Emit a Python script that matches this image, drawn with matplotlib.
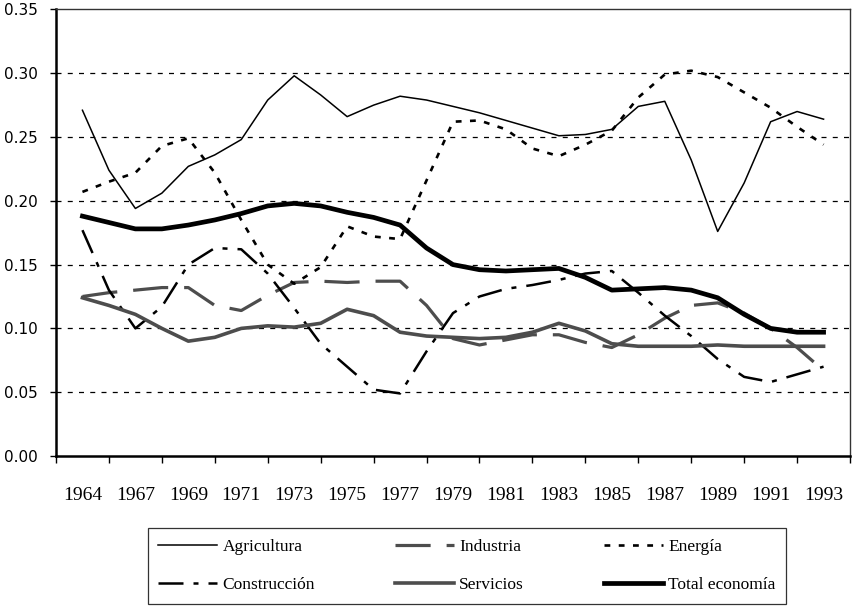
import numpy as np
import matplotlib
matplotlib.use('Agg')
import matplotlib.pyplot as plt

# categories (1965 not in the series; labels every other year)
years = [1964, 1966, 1967, 1968, 1969, 1970, 1971, 1972, 1973, 1974,
         1975, 1976, 1977, 1978, 1979, 1980, 1981, 1982, 1983, 1984,
         1985, 1986, 1987, 1988, 1989, 1990, 1991, 1992, 1993]

agricultura = [0.271, 0.224, 0.194, 0.206, 0.227, 0.236, 0.248, 0.279, 0.298, 0.283,
               0.266, 0.275, 0.282, 0.279, 0.274, 0.269, 0.263, 0.257, 0.251, 0.252,
               0.256, 0.274, 0.278, 0.232, 0.176, 0.214, 0.262, 0.270, 0.264]
industria = [0.125, 0.128, 0.130, 0.132, 0.132, 0.118, 0.114, 0.126, 0.136, 0.137,
             0.136, 0.137, 0.137, 0.118, 0.092, 0.087, 0.091, 0.095, 0.095, 0.089,
             0.085, 0.095, 0.108, 0.118, 0.120, 0.112, 0.100, 0.085, 0.067]
energia = [0.207, 0.215, 0.222, 0.243, 0.249, 0.222, 0.185, 0.150, 0.135, 0.148,
           0.180, 0.172, 0.170, 0.216, 0.262, 0.263, 0.256, 0.241, 0.235, 0.244,
           0.255, 0.281, 0.299, 0.302, 0.297, 0.285, 0.273, 0.258, 0.244]
construccion = [0.177, 0.130, 0.100, 0.117, 0.150, 0.163, 0.162, 0.143, 0.116, 0.088,
                0.070, 0.052, 0.049, 0.082, 0.112, 0.125, 0.131, 0.134, 0.138, 0.143,
                0.145, 0.128, 0.110, 0.094, 0.076, 0.062, 0.058, 0.064, 0.070]
servicios = [0.124, 0.118, 0.111, 0.100, 0.090, 0.093, 0.100, 0.102, 0.101, 0.104,
             0.115, 0.110, 0.097, 0.094, 0.093, 0.092, 0.093, 0.097, 0.104, 0.098,
             0.088, 0.086, 0.086, 0.086, 0.087, 0.086, 0.086, 0.086, 0.086]
total = [0.188, 0.183, 0.178, 0.178, 0.181, 0.185, 0.190, 0.196, 0.198, 0.196,
         0.191, 0.187, 0.181, 0.163, 0.150, 0.146, 0.145, 0.146, 0.147, 0.140,
         0.130, 0.131, 0.132, 0.130, 0.124, 0.111, 0.100, 0.097, 0.097]

x = np.arange(len(years))

fig = plt.figure(figsize=(8.52, 6.10), dpi=100)
ax = fig.add_axes([0.0657, 0.2525, 0.932, 0.732])

serif = ['Liberation Serif', 'DejaVu Serif']

l_agr, = ax.plot(x, agricultura, color='black', lw=1.1, label='Agricultura')
l_ind, = ax.plot(x, industria, color='#4d4d4d', lw=2.3, linestyle=(0, (11, 5)), label='Industria')
l_ene, = ax.plot(x, energia, color='black', lw=1.9, linestyle=(0, (2.2, 3.2)), label='Energía')
l_con, = ax.plot(x, construccion, color='black', lw=1.8, linestyle=(0, (10, 4, 2, 4)), label='Construcción')
l_ser, = ax.plot(x, servicios, color='#4d4d4d', lw=2.6, label='Servicios')
l_tot, = ax.plot(x, total, color='black', lw=3.4, label='Total economía')

ax.set_xlim(-1, len(years))
ax.set_ylim(0, 0.35)

# y axis
yt = np.arange(0, 0.351, 0.05)
ax.set_yticks(yt)
ax.set_yticklabels(['%.2f' % v for v in yt], fontsize=11)
ax.tick_params(axis='y', direction='out', length=4, width=1, pad=9)

# x axis: tick marks between labels, labels every other category
ax.set_xticks(np.arange(-1, len(years) + 1, 2))
ax.set_xticklabels([])
ax.tick_params(axis='x', which='major', direction='out', length=5, width=1)
ax.set_xticks(x[::2], minor=True)
ax.set_xticklabels([str(y) for y in years[::2]], minor=True, fontsize=14, family=serif)
ax.tick_params(axis='x', which='minor', length=0, pad=22)

for yv in np.arange(0.05, 0.31, 0.05):
    ax.axhline(yv, color='black', lw=0.9, linestyle=(0, (4, 5)), zorder=0)

for side in ['left', 'bottom']:
    ax.spines[side].set_linewidth(1.8)
for side in ['top', 'right']:
    ax.spines[side].set_linewidth(1.0)
    ax.spines[side].set_color('#333333')

# legend filled column by column -> rows read Agricultura / Industria / Energía
handles = [l_agr, l_con, l_ind, l_ser, l_ene, l_tot]
leg = fig.legend(handles=handles, labels=[h.get_label() for h in handles],
                 loc='upper center', bbox_to_anchor=(0.548, 0.134), ncol=3,
                 prop={'family': serif, 'size': 12.5}, frameon=True, fancybox=False,
                 edgecolor='black', handlelength=3.4, handletextpad=0.3,
                 columnspacing=4.6, labelspacing=1.25, borderaxespad=0,
                 borderpad=0.62)
leg.get_frame().set_linewidth(0.9)

fig.savefig('out.png', dpi=100)
